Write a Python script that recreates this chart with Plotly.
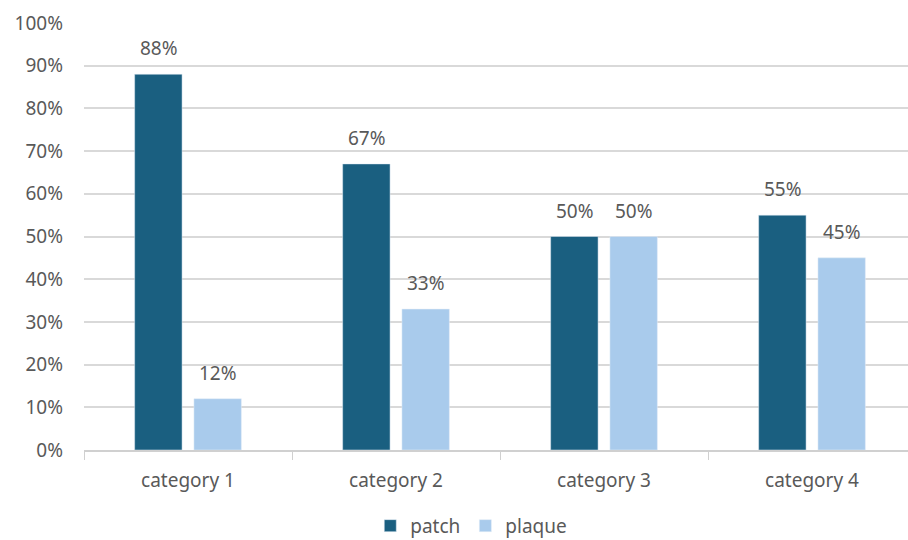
import plotly.graph_objects as go

categories = ["category 1", "category 2", "category 3", "category 4"]
patch = [0.88, 0.67, 0.50, 0.55]
plaque = [0.12, 0.33, 0.50, 0.45]

text_color = "#595959"
font_family = "Noto Sans, Open Sans, sans-serif"
fs = 19

fig = go.Figure()
fig.add_trace(go.Bar(name="patch", x=categories, y=patch, marker_color="#1a5f80"))
fig.add_trace(go.Bar(name="plaque", x=categories, y=plaque, marker_color="#a9cbec"))

# data labels above bars (shifted to each bar of the group)
for vals, xs in ((patch, -29.5), (plaque, 29.5)):
    for c, v in zip(categories, vals):
        fig.add_annotation(
            x=c, y=v, xref="x", yref="y", text=f"{round(v * 100)}%",
            showarrow=False, xshift=xs, yshift=26, yanchor="middle",
            font=dict(size=fs, color=text_color, family=font_family),
        )

fig.update_layout(
    width=908, height=540,
    margin=dict(l=84, r=0, t=23, b=90, autoexpand=False),
    paper_bgcolor="white", plot_bgcolor="white",
    barmode="group", bargap=0.43, bargroupgap=0.2,
    font=dict(family=font_family, color=text_color, size=fs),
    legend=dict(orientation="h", x=0.47, xanchor="center", y=-0.222, yanchor="bottom",
                font=dict(size=fs, color=text_color), itemwidth=30),
    showlegend=True,
)
fig.update_xaxes(
    type="category", range=[-0.5, 3.4615],
    showline=True, linecolor="#d0d0d0", linewidth=1.5,
    tickson="boundaries", ticks="outside", ticklen=8, tickcolor="#d0d0d0",
    ticklabelstandoff=12,
    tickfont=dict(size=fs, color=text_color), showgrid=False,
)
fig.update_yaxes(
    range=[0, 1], dtick=0.1, tickformat=".0%",
    showgrid=True, gridcolor="#d9d9d9", gridwidth=1.5,
    zeroline=False, showline=False, ticks="",
    ticklabelstandoff=20,
    tickfont=dict(size=fs, color=text_color),
)

fig.write_html("out.html")
